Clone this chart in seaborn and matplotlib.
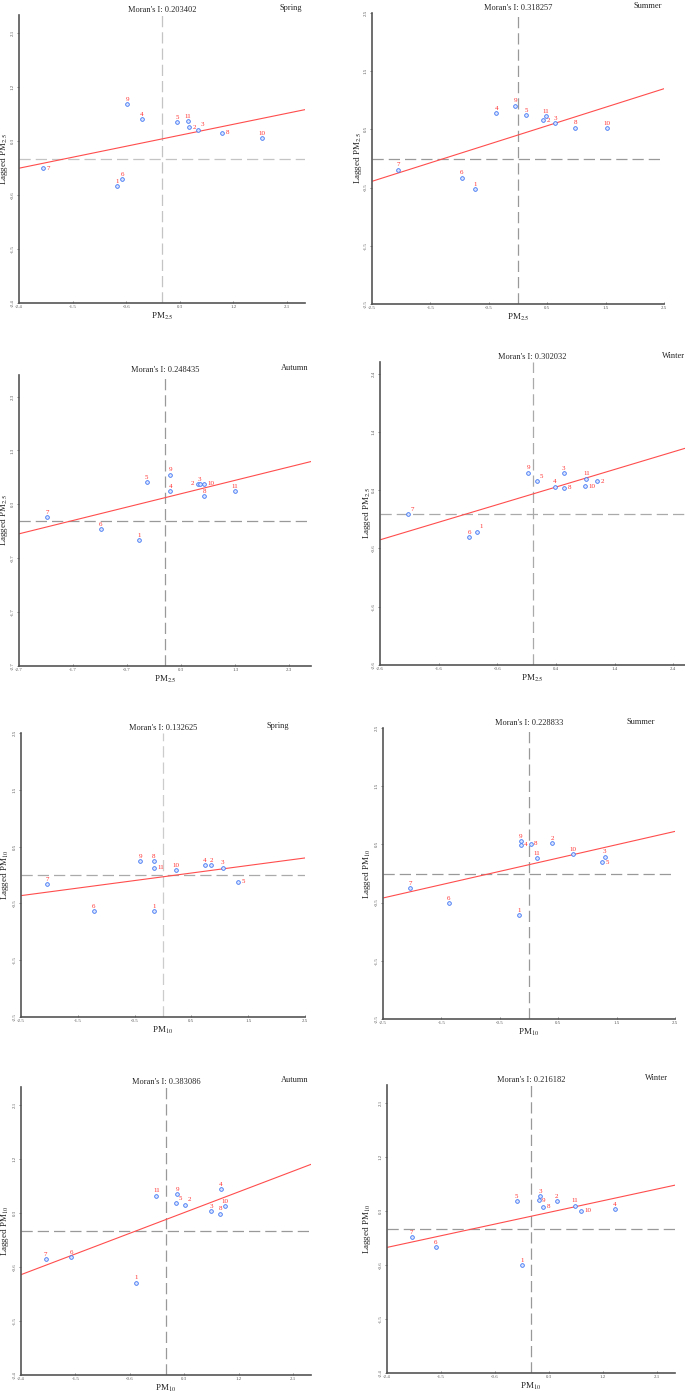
import numpy as np
import pandas as pd
import seaborn as sns
import matplotlib.pyplot as plt

sns.set_theme(style="ticks")
plt.rcParams['font.family'] = ['Liberation Serif', 'DejaVu Serif']
plt.rcParams['mathtext.fontset'] = 'stix'

# region ids 1..11
ids = list(range(1, 12))

# standardized value (x) and spatially lagged value (y), ordered by id
spring25_x = [-0.76, 0.46, 0.61, -0.34, 0.26, -0.67, -2.00, 1.01, -0.58, 1.67, 0.43]
spring25_y = [-0.45, 0.53, 0.49, 0.66, 0.62, -0.34, -0.15, 0.44, 0.92, 0.35, 0.63]
summer25_x = [-0.74, 0.43, 0.64, -0.37, 0.14, -0.96, -2.05, 0.98, -0.05, 1.53, 0.48]
summer25_y = [-0.52, 0.66, 0.61, 0.78, 0.75, -0.33, -0.19, 0.53, 0.91, 0.52, 0.73]
autumn25_x = [-0.48, 0.61, 0.64, 0.10, -0.34, -1.19, -2.18, 0.73, 0.10, 0.73, 1.29]
autumn25_y = [-0.37, 0.68, 0.68, 0.54, 0.71, -0.16, 0.06, 0.45, 0.85, 0.68, 0.54]
winter25_x = [-0.95, 1.10, 0.53, 0.38, 0.07, -1.08, -2.12, 0.54, -0.07, 0.89, 0.92]
winter25_y = [-0.31, 0.55, 0.69, 0.46, 0.55, -0.41, -0.01, 0.44, 0.70, 0.47, 0.60]
spring10_x = [-0.16, 0.85, 1.05, 0.74, 1.32, -1.22, -2.04, -0.16, -0.40, 0.23, -0.16]
spring10_y = [-0.63, 0.18, 0.13, 0.18, -0.12, -0.63, -0.16, 0.25, 0.24, 0.09, 0.13]
summer10_x = [-0.17, 0.40, 1.30, -0.14, 1.25, -1.37, -2.03, 0.03, -0.14, 0.76, 0.13]
summer10_y = [-0.71, 0.52, 0.29, 0.49, 0.19, -0.51, -0.25, 0.51, 0.55, 0.33, 0.26]
autumn10_x = [-0.49, 0.31, 0.75, 0.91, 0.16, -1.57, -1.99, 0.90, 0.19, 0.97, -0.16]
autumn10_y = [-0.86, 0.44, 0.33, 0.70, 0.47, -0.43, -0.47, 0.29, 0.62, 0.42, 0.59]
winter10_x = [-0.15, 0.43, 0.15, 1.40, -0.24, -1.59, -1.99, 0.20, 0.13, 0.83, 0.73]
winter10_y = [-0.60, 0.46, 0.55, 0.33, 0.47, -0.30, -0.14, 0.37, 0.48, 0.30, 0.39]

morans_i = [0.203402, 0.318257, 0.248435, 0.302032, 0.132625, 0.228833, 0.383086, 0.216182]
seasons = ['Spring', 'Summer', 'Autumn', 'Winter'] * 2
pollutants = ['PM$_{2.5}$'] * 4 + ['PM$_{10}$'] * 4

ticks_a = [-2.4, -1.5, -0.6, 0.3, 1.2, 2.1]
ticks_b = [-2.5, -1.5, -0.5, 0.5, 1.5, 2.5]
ticks_c = [-2.7, -1.7, -0.7, 0.3, 1.3, 2.3]
ticks_d = [-2.6, -1.6, -0.6, 0.4, 1.4, 2.4]
panel_ticks = [ticks_a, ticks_b, ticks_c, ticks_d, ticks_b, ticks_b, ticks_a, ticks_a]
panel_lims = [2.4, 2.5, 2.7, 2.6, 2.5, 2.5, 2.4, 2.4]

panels = [(spring25_x, spring25_y), (summer25_x, summer25_y),
          (autumn25_x, autumn25_y), (winter25_x, winter25_y),
          (spring10_x, spring10_y), (summer10_x, summer10_y),
          (autumn10_x, autumn10_y), (winter10_x, winter10_y)]

# where the id label sits next to its point (default: above)
label_side = [
    {2: 'r', 3: 'ar', 7: 'r', 8: 'r'},
    {2: 'r'},
    {2: 'l', 10: 'r'},
    {7: 'ar', 1: 'ar', 5: 'ar', 8: 'r', 10: 'r', 2: 'r'},
    {11: 'r', 5: 'r'},
    {4: 'r', 8: 'r', 5: 'r'},
    {5: 'ar', 2: 'ar'},
    {9: 'r', 8: 'r', 10: 'r'},
]
offsets = {'a': ((0, 1.6), 'center', 'bottom'),
           'ar': ((2.0, 1.6), 'left', 'bottom'),
           'r': ((2.4, 0), 'left', 'center'),
           'l': ((-2.4, 0), 'right', 'center')}

# axes boxes in pixels: left, right, top, bottom
W, H = 685, 1392
boxes = [(19, 305, 15, 303), (372, 664, 13, 304),
         (19, 311, 375, 666), (380, 685, 362, 665),
         (21, 305, 733, 1017), (383, 675, 728, 1019),
         (21, 311, 1087, 1375), (387, 675, 1085, 1373)]
season_x = [0.99, 0.993, 0.993, 1.0, 0.944, 0.93, 0.99, 0.976]
ylabel_gap = [9, 8, 9, 7, 10, 10, 10, 14]
# colours of the dashed zero lines (vertical, horizontal)
dash_cols = [('#c4c4c4', '#c4c4c4'), ('#999999', '#999999'),
             ('#999999', '#999999'), ('#aaaaaa', '#aaaaaa'),
             ('#cccccc', '#aaaaaa'), ('#999999', '#999999'),
             ('#999999', '#999999'), ('#999999', '#999999')]

fig = plt.figure(figsize=(W / 100, H / 100), dpi=100)

for k, (xs, ys) in enumerate(panels):
    l, r, t, b = boxes[k]
    ax = fig.add_axes([l / W, 1 - b / H, (r - l) / W, (b - t) / H])
    lim = panel_lims[k]
    ax.set_xlim(-lim, lim)
    ax.set_ylim(-lim, lim)

    df = pd.DataFrame({'id': ids, 'x': xs, 'lag': ys})

    vc, hc = dash_cols[k]
    ax.axvline(0, color=vc, lw=0.9, ls=(0, (9, 4)), zorder=1)
    ax.axhline(0, color=hc, lw=0.9, ls=(0, (9, 4)), zorder=1)

    slope = morans_i[k]
    icpt = df['lag'].mean() - slope * df['x'].mean()
    ax.axline((0, icpt), slope=slope, color='#ff4d4d', lw=0.8, zorder=2)

    sns.scatterplot(data=df, x='x', y='lag', ax=ax, s=7, color='#dbe5ff',
                    edgecolor='#3f74f2', linewidth=0.6, zorder=3, legend=False)

    for _, row in df.iterrows():
        side = label_side[k].get(int(row['id']), 'a')
        off, ha, va = offsets[side]
        ax.annotate(str(int(row['id'])), (row['x'], row['lag']), xytext=off,
                    textcoords='offset points', ha=ha, va=va,
                    fontsize=5, color='#ff3030')

    ticks = panel_ticks[k]
    ax.set_xticks(ticks)
    ax.set_yticks(ticks)
    ax.set_xticklabels(['%.1f' % v for v in ticks])
    ax.set_yticklabels(['%.1f' % v for v in ticks], rotation=90, va='center')
    ax.tick_params(labelsize=3.5, labelcolor='#555555', length=1.5, width=0.5,
                   pad=1.5, color='#555555')
    ax.tick_params(axis='x', direction='in')

    sns.despine(ax=ax)
    for s in ['left', 'bottom']:
        ax.spines[s].set_color('#555555')
        ax.spines[s].set_linewidth(1.2)

    w_px, h_px = r - l, b - t
    ax.set_xlabel(pollutants[k], fontsize=6.5)
    ax.set_ylabel('Lagged ' + pollutants[k], fontsize=6.5)
    ax.xaxis.set_label_coords(0.5, -7.5 / h_px)
    ax.yaxis.set_label_coords(-ylabel_gap[k] / w_px, 0.5)

    ax.set_title("Moran's I: %.6f" % morans_i[k], fontsize=6, pad=2)
    ax.text(season_x[k], 1 + 2.5 / h_px, seasons[k], transform=ax.transAxes,
            ha='right', va='bottom', fontsize=6)

fig.savefig('out.png', dpi=100)
